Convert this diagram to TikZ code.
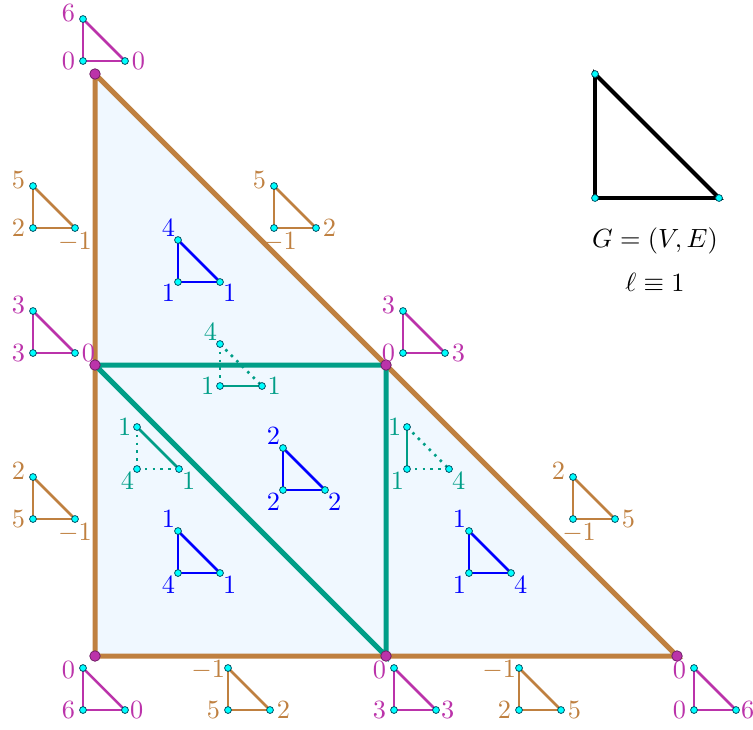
\documentclass[tikz,border=0pt]{standalone}
\usetikzlibrary{calc}
\definecolor{brownc}{RGB}{191,128,64}
\definecolor{magc}{RGB}{187,51,170}
\definecolor{tealc}{RGB}{0,158,135}
\definecolor{bluec}{RGB}{0,0,255}
\definecolor{fillc}{RGB}{240,248,255}
\definecolor{dotc}{RGB}{0,255,255}
\definecolor{dotline}{RGB}{0,80,100}
\tikzset{
  bigedge/.style={line width=1.9pt},
  tedge/.style={line width=0.95pt},
  sdot/.style={circle,fill=dotc,draw=dotline,line width=0.3pt,inner sep=0pt,minimum size=2.6pt},
  bigdot/.style={circle,fill=magc,draw=magc!60!black,line width=0.3pt,inner sep=0pt,minimum size=4pt},
  lbl/.style={inner sep=0.95pt},
  es-v/.style={}, es-b/.style={}, es-h/.style={},
  ep-v/.style={dotted}, ep-b/.style={}, ep-h/.style={dotted},
  eq-v/.style={dotted}, eq-b/.style={dotted}, eq-h/.style={},
  er-v/.style={}, er-b/.style={dotted}, er-h/.style={dotted},
  lm-t/.style={anchor=east,xshift=-1.9pt,yshift=2.3pt},
  lm-l/.style={anchor=east,xshift=-1.9pt},
  lm-r/.style={anchor=west,xshift=1.5pt},
  lb1-t/.style={lm-t}, lb1-l/.style={lm-l}, lb1-r/.style={anchor=north,yshift=-0.6pt},
  lb2-t/.style={lm-t}, lb2-l/.style={anchor=north,xshift=2.3pt,yshift=-0.6pt}, lb2-r/.style={lm-r},
  lbot-t/.style={anchor=east,xshift=-1.9pt,yshift=-0.8pt}, lbot-l/.style={lm-l}, lbot-r/.style={anchor=west,xshift=0.8pt},
  lbotm-t/.style={anchor=east,xshift=0pt,yshift=-0.8pt}, lbotm-l/.style={lm-l}, lbotm-r/.style={lm-r},
  lblue-t/.style={anchor=south east}, lblue-l/.style={anchor=north east}, lblue-r/.style={anchor=north west},
  lt1-t/.style={anchor=south east}, lt1-l/.style={anchor=east,xshift=-1pt}, lt1-r/.style={anchor=west,xshift=1pt},
  lt2-t/.style={anchor=east,xshift=-1pt}, lt2-l/.style={anchor=north east}, lt2-r/.style={anchor=north west},
}
% #1 name, #2 x, #3 y of lower-left vertex, #4 colour, #5 #6 #7 labels (top, left, right), #8 label set, #9 edge set
\newcommand\stri[9]{%
  \coordinate (#1l) at (#2,#3);
  \coordinate (#1t) at (#2,#3-42);
  \coordinate (#1r) at (#2+42,#3);
  \draw[tedge,#4,#9-v] (#1t) -- (#1l);
  \draw[tedge,#4,#9-b] (#1l) -- (#1r);
  \draw[tedge,#4,#9-h] (#1t) -- (#1r);
  \node[sdot] (#1T) at (#1t) {};
  \node[sdot] (#1L) at (#1l) {};
  \node[sdot] (#1R) at (#1r) {};
  \node[lbl,text=#4,#8-t] (#1a) at (#1t) {$#5$};
  \node[lbl,text=#4,#8-l] (#1b) at (#1l) {$#6$};
  \node[lbl,text=#4,#8-r] (#1c) at (#1r) {$#7$};
}
\begin{document}
\begin{tikzpicture}[x=0.38pt,y=-0.38pt]
\useasboundingbox (0,0) rectangle (753,729);
% big triangle
\coordinate (A) at (95,74);
\coordinate (B) at (95,365);
\coordinate (C) at (95,656);
\coordinate (D) at (386,365);
\coordinate (E) at (386,656);
\coordinate (F) at (677,656);
\fill[fillc] (A) -- (C) -- (F) -- cycle;
\draw[bigedge,brownc] (A) -- (B) -- (C) -- (E) -- (F) -- (D) -- (A);
\draw[bigedge,tealc] (B) -- (D) -- (E) -- (B);
\foreach \p in {A,B,C,D,E,F} \node[bigdot] (\p dot) at (\p) {};
% small triangles
\stri{mA}{83}{61}{magc}{6}{0}{0}{lm}{es}
\stri{bA}{33}{228}{brownc}{5}{2}{-1}{lb1}{es}
\stri{bB}{274}{228}{brownc}{5}{-1}{2}{lb2}{es}
\stri{mB}{33}{353}{magc}{3}{3}{0}{lm}{es}
\stri{mC}{403}{353}{magc}{3}{0}{3}{lm}{es}
\stri{bC}{33}{519}{brownc}{2}{5}{-1}{lb1}{es}
\stri{bD}{573}{519}{brownc}{2}{-1}{5}{lb2}{es}
\stri{mD}{83}{710}{magc}{0}{6}{0}{lbot}{es}
\stri{bE}{228}{710}{brownc}{-1}{5}{2}{lbotm}{es}
\stri{mE}{394}{710}{magc}{0}{3}{3}{lbot}{es}
\stri{bF}{519}{710}{brownc}{-1}{2}{5}{lbotm}{es}
\stri{mF}{694}{710}{magc}{0}{0}{6}{lbot}{es}
\stri{uA}{178}{282}{bluec}{4}{1}{1}{lblue}{es}
\stri{uB}{283}{490}{bluec}{2}{2}{2}{lblue}{es}
\stri{uC}{178}{573}{bluec}{1}{4}{1}{lblue}{es}
\stri{uD}{469}{573}{bluec}{1}{1}{4}{lblue}{es}
\stri{tA}{220}{386}{tealc}{4}{1}{1}{lt1}{ep}
\stri{tB}{137}{469}{tealc}{1}{4}{1}{lt2}{eq}
\stri{tC}{407}{469}{tealc}{1}{1}{4}{lt2}{er}
% graph G
\coordinate (g1) at (595,74);
\coordinate (g2) at (595,198);
\coordinate (g3) at (719,198);
\draw[line width=1.5pt,black] (g1) -- (g2) -- (g3) -- cycle;
\foreach \p in {g1,g2,g3} \node[sdot] (\p dot) at (\p) {};
\node (gtext) at (655,241) {$G=(V,E)$};
\node (ltext) at (655,282) {$\ell\equiv 1$};
\end{tikzpicture}
\end{document}
